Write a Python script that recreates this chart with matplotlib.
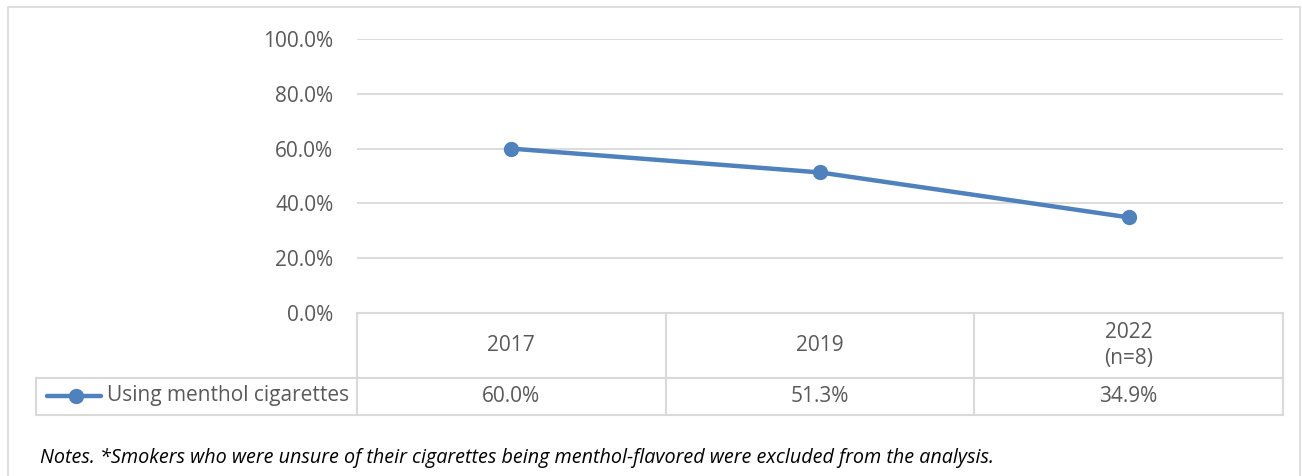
import matplotlib.pyplot as plt
from matplotlib.patches import Rectangle
from matplotlib.lines import Line2D

# dane
years = ["2017", "2019", "2022\n(n=8)"]
menthol = [60.0, 51.3, 34.9]
series_name = "Using menthol cigarettes"
yticks = [0, 20, 40, 60, 80, 100]
note = "Notes. *Smokers who were unsure of their cigarettes being menthol-flavored were excluded from the analysis."

W, H = 1302, 476
blue = "#4F81BD"
grey_txt = "#595959"
grid_c = "#D9D9D9"
FONT = "Open Sans"
FS = 15

fig = plt.figure(figsize=(W / 100, H / 100), dpi=100)


def fx(px):
    return px / W


def fy(py):
    return 1 - py / H


# obramowanie wykresu
fig.patches.append(Rectangle((fx(8), fy(490)), fx(1300 - 8), (490 - 7) / H,
                             transform=fig.transFigure, fill=False,
                             edgecolor=grid_c, linewidth=1.2))

# obszar wykresu
x0, x1 = 357, 1283
ax = fig.add_axes([fx(x0), fy(313), fx(x1 - x0), (313 - 39) / H])
xs = list(range(len(years)))
ax.plot(xs, menthol, color=blue, linewidth=3.2, marker="o", markersize=10,
        solid_capstyle="round", zorder=3)
ax.set_xlim(-0.5, len(years) - 0.5)
ax.set_ylim(0, 100)
ax.set_yticks(yticks)
ax.set_yticklabels([f"{v:.1f}%" for v in yticks], fontsize=FS, family=FONT,
                   color=grey_txt)
ax.tick_params(axis="y", length=0, pad=17)
ax.set_xticks([])
ax.grid(axis="y", color=grid_c, linewidth=1.3)
ax.set_axisbelow(True)
for s in ax.spines.values():
    s.set_visible(False)

# tabela danych pod osia
tab = fig.add_axes([fx(x0), fy(415), fx(x1 - x0), (415 - 313) / H])
tab.set_xlim(-0.5, len(years) - 0.5)
tab.set_ylim(0, 1)
tab.axis("off")
mid = (415 - 378) / (415 - 313)
lw = 1.5
# poziome linie
tab.plot([-0.5, len(years) - 0.5], [1, 1], color=grid_c, lw=lw, clip_on=False)
left_leg = -0.5 - (x0 - 36) / ((x1 - x0) / len(years))
tab.plot([left_leg, len(years) - 0.5], [mid, mid], color=grid_c, lw=lw, clip_on=False)
tab.plot([left_leg, len(years) - 0.5], [0, 0], color=grid_c, lw=lw, clip_on=False)
# pionowe linie
tab.plot([left_leg, left_leg], [0, mid], color=grid_c, lw=lw, clip_on=False)
for i in range(len(years) + 1):
    tab.plot([i - 0.5, i - 0.5], [0, 1], color=grid_c, lw=lw, clip_on=False)

for i, (yr, v) in enumerate(zip(years, menthol)):
    tab.text(i, (1 + mid) / 2, yr, ha="center", va="center", fontsize=FS,
             family=FONT, color=grey_txt, linespacing=1.3)
    tab.text(i, mid / 2, f"{v:.1f}%", ha="center", va="center", fontsize=FS,
             family=FONT, color=grey_txt)

# legenda w tabeli
fig.lines.append(Line2D([fx(47), fx(101)], [fy(396), fy(396)], transform=fig.transFigure,
                        color=blue, linewidth=3.2, solid_capstyle="round"))
fig.lines.append(Line2D([fx(76)], [fy(396)], transform=fig.transFigure,
                        color=blue, marker="o", markersize=10))
fig.text(fx(107), fy(396), series_name, ha="left", va="center", fontsize=FS,
         family=FONT, color=grey_txt)

# przypis
fig.text(fx(40), fy(458), note, ha="left", va="center", fontsize=14.2,
         family=FONT, style="italic", color="black")

fig.savefig("out.png", dpi=100)
